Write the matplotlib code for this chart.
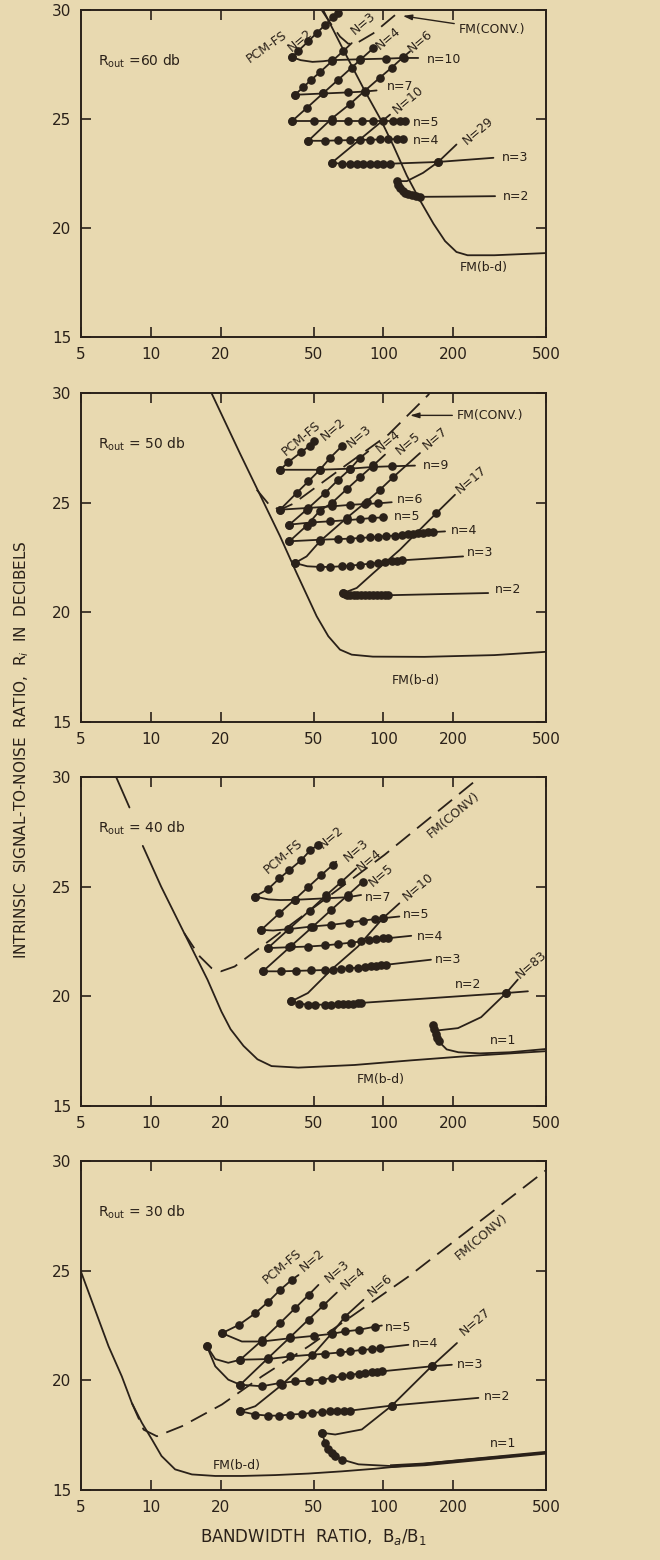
import matplotlib
matplotlib.use("Agg")
import matplotlib.pyplot as plt
from matplotlib.ticker import NullLocator

BG = "#e8d9b0"
INK = "#2a2119"

# ---------------- axis labels / ticks ----------------
x_ticks = [5, 10, 20, 50, 100, 200, 500]
x_tick_labels = ["5", "10", "20", "50", "100", "200", "500"]
y_ticks = [15, 20, 25, 30]
x_label = "BANDWIDTH  RATIO,  B$_a$/B$_1$"
y_label = "INTRINSIC  SIGNAL-TO-NOISE  RATIO,  R$_i$  IN  DECIBELS"

# ================= Panel R_out = 60 db =================
p60_fmbd_x = [55, 67, 83, 97, 110, 126, 143, 164, 184, 206, 230, 300, 500]
p60_fmbd_y = [30, 28.2, 26.3, 25.0, 23.8, 22.4, 21.3, 20.2, 19.4, 18.9, 18.75, 18.75, 18.85]
p60_fmconv_x = [54.2, 58.9, 65, 70.6, 76.7, 90.4, 120]
p60_fmconv_y = [30, 29.42, 28.78, 28.45, 28.48, 28.93, 30.03]
p60_N2_x = [40.4, 43.0, 47.5, 51.6, 56.0, 60.8, 63.5, 66]
p60_N2_y = [27.84, 28.12, 28.57, 28.94, 29.31, 29.68, 29.88, 30.1]
p60_N3_x = [41.6, 45.2, 48.6, 53.3, 59.9, 67.2, 73]
p60_N3_y = [26.11, 26.46, 26.77, 27.15, 27.64, 28.12, 28.48]
p60_N4_x = [40.3, 46.7, 55.1, 64.0, 73.0, 79.2, 90.4]
p60_N4_y = [24.89, 25.5, 26.19, 26.81, 27.36, 27.7, 28.25]
p60_N6_x = [47.5, 59.9, 71.8, 83.2, 96.6, 108.5, 121.7, 130]
p60_N6_y = [24.0, 25.02, 25.69, 26.3, 26.9, 27.36, 27.84, 28.1]
p60_N10_x = [59.9, 74.2, 90.4, 106.7]
p60_N10_y = [22.99, 23.81, 24.57, 25.2]
p60_N29_x = [115.8, 126, 148, 172, 206]
p60_N29_y = [22.15, 22.15, 22.53, 23.03, 23.83]
p60_n10_x = [40.4, 44, 49.5, 55, 60, 79, 103, 122, 141]
p60_n10_y = [27.84, 27.7, 27.62, 27.65, 27.7, 27.74, 27.77, 27.8, 27.8]
p60_n7_x = [41.6, 55.1, 70.6, 83.2, 93.4]
p60_n7_y = [26.11, 26.17, 26.22, 26.26, 26.31]
p60_n5_x = [40.3, 50, 59.9, 70.6, 80.6, 90.4, 99.9, 110, 117.8, 123.8]
p60_n5_y = [24.9, 24.9, 24.9, 24.9, 24.9, 24.9, 24.9, 24.9, 24.9, 24.9]
p60_n4_x = [47.5, 56, 64, 71.8, 79.2, 87.5, 96.6, 104.9, 114, 121.7]
p60_n4_y = [24.0, 24.0, 24.02, 24.03, 24.04, 24.05, 24.06, 24.07, 24.08, 24.09]
p60_n3_x = [59.9, 66.1, 71.8, 76.7, 81.9, 87.5, 93.4, 99.9, 106.7, 172, 297]
p60_n3_y = [22.99, 22.95, 22.93, 22.92, 22.92, 22.92, 22.93, 22.94, 22.95, 23.03, 23.22]
p60_n2_x = [114, 116, 118, 121, 124, 128, 132, 138, 143.5, 200, 302]
p60_n2_y = [22.15, 21.98, 21.84, 21.72, 21.62, 21.55, 21.5, 21.46, 21.43, 21.44, 21.46]

# ================= Panel R_out = 50 db =================
p50_fmbd_x = [18.2, 24.1, 29.9, 35.9, 42.3, 51.6, 57.9, 65, 73, 90, 150, 300, 500]
p50_fmbd_y = [30, 27.26, 25.21, 23.47, 21.79, 19.82, 18.91, 18.3, 18.07, 17.98, 17.97, 18.05, 18.2]
p50_fmconv_x = [28.5, 32.5, 35.9, 40.9, 69.4, 104.9, 156, 160]
p50_fmconv_y = [25.59, 24.86, 24.68, 24.95, 26.73, 28.1, 29.92, 30.1]
p50_N2_x = [35.9, 39.0, 44.2, 48.3, 50.3]
p50_N2_y = [26.5, 26.85, 27.3, 27.6, 27.8]
p50_N3_x = [35.9, 42.3, 47.5, 53.3, 58.9, 66.1]
p50_N3_y = [24.68, 25.44, 25.97, 26.5, 27.04, 27.57]
p50_N4_x = [39.4, 46.7, 56.0, 64.0, 71.8, 79.2, 86]
p50_N4_y = [24.0, 24.68, 25.44, 26.05, 26.53, 27.04, 27.34]
p50_N5_x = [39.4, 46.7, 53.3, 59.9, 69.4, 79.2, 90.4, 101.5]
p50_N5_y = [23.24, 23.95, 24.64, 24.98, 25.61, 26.16, 26.7, 27.19]
p50_N7_x = [41.6, 46.7, 53.3, 69.4, 84.6, 96.6, 110, 143.5]
p50_N7_y = [22.25, 22.55, 23.24, 24.3, 25.05, 25.59, 26.16, 27.26]
p50_N17_x = [67.2, 76.7, 90.4, 117.8, 169, 203]
p50_N17_y = [20.88, 21.11, 21.79, 22.86, 24.53, 25.36]
p50_n9_x = [35.9, 53.3, 71.8, 90.4, 108.5, 136.6]
p50_n9_y = [26.5, 26.5, 26.55, 26.63, 26.66, 26.69]
p50_n6_x = [35.9, 47.5, 59.9, 71.8, 83.2, 95, 108.5]
p50_n6_y = [24.68, 24.76, 24.83, 24.9, 24.94, 24.97, 25.02]
p50_n5_x = [39.4, 49.1, 58.9, 69.4, 79.2, 89, 99.9, 103]
p50_n5_y = [24.0, 24.1, 24.15, 24.2, 24.25, 24.3, 24.33, 24.35]
p50_n4_x = [39.4, 53.3, 64, 71.8, 79.2, 87.5, 95, 103, 112, 119.7, 128, 134, 141, 148, 156, 164, 184]
p50_n4_y = [23.24, 23.31, 23.34, 23.36, 23.39, 23.42, 23.45, 23.48, 23.5, 23.54, 23.57, 23.59,
            23.61, 23.63, 23.65, 23.66, 23.69]
p50_n3_x = [41.6, 47, 53.3, 58.9, 66.1, 71.8, 79.2, 87.5, 95, 101.5, 108.5, 114, 119.7, 220]
p50_n3_y = [22.25, 22.1, 22.07, 22.07, 22.1, 22.13, 22.17, 22.22, 22.25, 22.28, 22.32, 22.35, 22.37, 22.55]
p50_n2_x = [67.2, 68.3, 70, 72, 74.5, 77, 80, 83, 86.5, 90, 94, 98, 101.5, 104.9, 282]
p50_n2_y = [20.88, 20.82, 20.8, 20.78, 20.77, 20.77, 20.77, 20.77, 20.77, 20.77, 20.77, 20.78,
            20.78, 20.78, 20.88]

# ================= Panel R_out = 40 db =================
p40_fmbd_x = [7.08, 8.08, 9.22, 11.06, 13.9, 17.5, 20.1, 22, 25, 28.7, 33, 43, 75, 131, 233, 500]
p40_fmbd_y = [30, 28.61, 26.86, 25, 22.88, 20.76, 19.3, 18.5, 17.74, 17.13, 16.82, 16.75, 16.87,
              17.08, 17.28, 17.5]
p40_fmconv_x = [13.9, 16.2, 18.2, 20.0, 22.9, 101, 254.6, 280]
p40_fmconv_y = [22.88, 21.82, 21.29, 21.14, 21.36, 26.45, 29.92, 30.5]
p40_N2_x = [27.9, 31.8, 35.7, 39.4, 44.3, 48.5, 52.2]
p40_N2_y = [24.55, 24.88, 25.38, 25.76, 26.21, 26.67, 26.89]
p40_N3_x = [29.8, 35.7, 41.5, 47.3, 53.9, 60.6, 62.6]
p40_N3_y = [23.03, 23.79, 24.41, 24.97, 25.52, 26.0, 26.14]
p40_N4_x = [31.8, 39.4, 48.1, 56.7, 65.8, 76.3]
p40_N4_y = [22.2, 23.09, 23.91, 24.61, 25.21, 25.83]
p40_N5_x = [30.3, 40.1, 49.7, 59.6, 70.3, 81.5]
p40_N5_y = [21.14, 22.3, 23.18, 23.94, 24.62, 25.23]
p40_N10_x = [40.1, 47.3, 59.6, 77.6, 99.4, 117]
p40_N10_y = [19.77, 20.15, 21.21, 22.27, 23.56, 24.24]
p40_N83_x = [163, 172, 209, 263, 337, 378]
p40_N83_y = [18.71, 18.45, 18.55, 19.05, 20.15, 20.76]
p40_n7_x = [27.9, 32, 36, 41.5, 56.7, 70.3, 80.1]
p40_n7_y = [24.55, 24.42, 24.39, 24.4, 24.47, 24.52, 24.62]
p40_n5_x = [29.8, 33.5, 38.8, 48.8, 59.6, 71.4, 81.5, 91.5, 99.4, 117]
p40_n5_y = [23.03, 23.0, 23.06, 23.18, 23.26, 23.36, 23.45, 23.52, 23.56, 23.64]
p40_n4_x = [31.8, 39.4, 47.3, 55.8, 63.6, 72.6, 80.1, 87, 93, 99.4, 104.4, 131.6]
p40_n4_y = [22.2, 22.24, 22.27, 22.32, 22.38, 22.45, 22.5, 22.58, 22.6, 22.64, 22.65, 22.76]
p40_n3_x = [30.3, 36.3, 42.1, 48.8, 55.8, 60.6, 65.8, 71.4, 77.6, 82.9, 88.5, 93, 97.7, 102.7, 160]
p40_n3_y = [21.14, 21.14, 21.16, 21.18, 21.2, 21.22, 21.25, 21.28, 21.31, 21.34, 21.37, 21.39,
            21.41, 21.44, 21.67]
p40_n2_x = [40.1, 43.5, 47.3, 50.5, 55.8, 59.6, 63.6, 66.9, 70.3, 73.8, 77.6, 80.1, 337, 418]
p40_n2_y = [19.77, 19.67, 19.62, 19.62, 19.62, 19.62, 19.65, 19.65, 19.67, 19.67, 19.7, 19.7,
            20.15, 20.23]
p40_n1_x = [163, 165.5, 168, 170.5, 172.5, 187, 210, 260, 350, 500]
p40_n1_y = [18.71, 18.5, 18.3, 18.1, 17.95, 17.58, 17.45, 17.4, 17.45, 17.6]

# ================= Panel R_out = 30 db =================
p30_fmbd_x = [5, 5.75, 6.57, 7.49, 8.27, 9.14, 10.1, 11.1, 12.7, 15.0, 18.9, 24.6, 34.2, 47.6,
              66.2, 92.1, 128, 178, 248, 500]
p30_fmbd_y = [24.95, 23.21, 21.55, 20.18, 18.97, 18.06, 17.3, 16.55, 15.94, 15.71, 15.64, 15.64,
              15.68, 15.75, 15.85, 15.97, 16.12, 16.28, 16.42, 16.7]
p30_fmconv_x = [8.27, 9.3, 10.6, 13.6, 20.2, 30.0, 47.6, 128, 500]
p30_fmconv_y = [18.97, 17.75, 17.45, 17.91, 18.9, 20.18, 21.55, 24.73, 29.58]
p30_N2_x = [20.2, 23.9, 28.1, 32.0, 35.9, 40.3, 43.1]
p30_N2_y = [22.15, 22.53, 23.06, 23.59, 24.12, 24.58, 24.8]
p30_N3_x = [24.2, 30, 35.9, 41.7, 47.6, 52.5]
p30_N3_y = [20.94, 21.82, 22.61, 23.29, 23.89, 24.35]
p30_N4_x = [24.2, 32.0, 39.7, 47.6, 55.2, 63]
p30_N4_y = [19.8, 21.03, 21.97, 22.77, 23.42, 24.0]
p30_N6_x = [24.2, 28.1, 36.6, 47.6, 60, 68.4, 82]
p30_N6_y = [18.59, 18.82, 19.8, 20.94, 22.15, 22.91, 23.67]
p30_N27_x = [54.3, 62, 80.7, 108.7, 161, 207]
p30_N27_y = [17.61, 17.53, 17.76, 18.85, 20.64, 21.7]
p30_n5_x = [20.2, 24.6, 30.0, 39.7, 50.4, 60, 68.4, 78.1, 92.1, 98.4]
p30_n5_y = [22.15, 21.77, 21.77, 21.92, 22.03, 22.12, 22.23, 22.3, 22.45, 22.5]
p30_n4_x = [17.4, 18.9, 21.5, 24.2, 32.0, 39.7, 49.2, 56.1, 65.1, 71.9, 80.7, 89.1, 96.7, 128]
p30_n4_y = [21.55, 20.97, 20.8, 20.94, 20.97, 21.09, 21.17, 21.21, 21.27, 21.32, 21.39, 21.42,
            21.47, 21.62]
p30_n3_x = [17.4, 18.9, 21.5, 24.2, 30, 35.9, 41.7, 47.6, 54.3, 60, 66.2, 71.9, 78.1, 83.4, 89.1,
            93.6, 98.4, 161, 196.8]
p30_n3_y = [21.55, 20.64, 20.03, 19.8, 19.73, 19.88, 19.95, 19.98, 20.03, 20.11, 20.18, 20.26,
            20.3, 20.33, 20.36, 20.39, 20.41, 20.64, 20.71]
p30_n2_x = [24.2, 28.1, 32.0, 35.4, 39.7, 44.6, 49.2, 54.3, 59, 63, 67.3, 71.9, 108.7, 256]
p30_n2_y = [18.59, 18.44, 18.39, 18.39, 18.44, 18.47, 18.52, 18.55, 18.58, 18.59, 18.6, 18.62,
            18.85, 19.2]
p30_n1_x = [54.3, 56.1, 58, 60, 62, 66.2, 78.1, 108.7, 151, 248, 500]
p30_n1_y = [17.61, 17.15, 16.85, 16.7, 16.55, 16.39, 16.17, 16.09, 16.17, 16.39, 16.7]

# ---------------- helpers ----------------
LW = 1.3
MS = 5.2


def curve(ax, x, y, dots=(), lw=LW):
    ax.plot(x, y, color=INK, lw=lw, solid_capstyle="round", zorder=3)
    if dots:
        ax.plot([x[i] for i in dots], [y[i] for i in dots], "o", ms=MS, color=INK,
                mec=INK, zorder=4)


def dashed(ax, x, y):
    ax.plot(x, y, color=INK, lw=LW, dashes=(10, 5), zorder=3)


def rlabel(ax, x, y, s, rot=40, fs=9):
    ax.text(x, y, s, rotation=rot, rotation_mode="anchor", ha="center", va="center",
            fontsize=fs, color=INK, zorder=5)


def hlabel(ax, x, y, s, fs=9):
    ax.text(x, y, s, ha="left", va="center", fontsize=fs, color=INK, zorder=5)


def setup(ax, rout):
    ax.set_facecolor(BG)
    ax.set_xscale("log")
    ax.set_xlim(5, 500)
    ax.set_ylim(15, 30)
    ax.set_xticks(x_ticks)
    ax.set_xticklabels(x_tick_labels)
    ax.xaxis.set_minor_locator(NullLocator())
    ax.set_yticks(y_ticks)
    ax.set_yticklabels([str(v) for v in y_ticks])
    ax.tick_params(direction="in", top=True, right=True, length=7, width=1.2,
                   labelsize=11, pad=7, colors=INK)
    for s in ax.spines.values():
        s.set_linewidth(1.4)
        s.set_color(INK)
    ax.text(5.94, 27.64, "R$_{\\rm out}$ " + rout, fontsize=10, color=INK,
            ha="left", va="center", zorder=5)


fig = plt.figure(figsize=(6.6, 15.6), dpi=100)
fig.patch.set_facecolor(BG)

L, W = 81 / 660, 465 / 660
tops = [10, 393, 777, 1161]
bots = [337, 722, 1106, 1490]
axs = [fig.add_axes([L, 1 - b / 1560, W, (b - t) / 1560]) for t, b in zip(tops, bots)]

# ---------- panel 60 ----------
ax = axs[0]
setup(ax, "=60 db")
curve(ax, p60_fmbd_x, p60_fmbd_y)
dashed(ax, p60_fmconv_x, p60_fmconv_y)
curve(ax, p60_N2_x, p60_N2_y, dots=(0, 1, 2, 3, 4, 5, 6))
curve(ax, p60_N3_x, p60_N3_y, dots=(0, 1, 2, 3, 4, 5))
curve(ax, p60_N4_x, p60_N4_y, dots=(0, 1, 2, 3, 4, 5, 6))
curve(ax, p60_N6_x, p60_N6_y, dots=(0, 1, 2, 3, 4, 5, 6))
curve(ax, p60_N10_x, p60_N10_y, dots=(0,))
curve(ax, p60_N29_x, p60_N29_y, dots=(3,))
curve(ax, p60_n10_x, p60_n10_y, dots=(0, 4, 5, 6, 7))
curve(ax, p60_n7_x, p60_n7_y, dots=(0, 1, 2, 3))
curve(ax, p60_n5_x, p60_n5_y, dots=tuple(range(10)))
curve(ax, p60_n4_x, p60_n4_y, dots=tuple(range(10)))
curve(ax, p60_n3_x, p60_n3_y, dots=tuple(range(10)))
curve(ax, p60_n2_x, p60_n2_y, dots=tuple(range(9)))
rlabel(ax, 31.5, 28.32, "PCM-FS", rot=35)
rlabel(ax, 43.7, 28.62, "N=2")
rlabel(ax, 81.9, 29.39, "N=3")
rlabel(ax, 104.9, 28.7, "N=4")
rlabel(ax, 143.5, 28.55, "N=6")
rlabel(ax, 128, 25.88, "N=10")
rlabel(ax, 256, 24.44, "N=29")
hlabel(ax, 153, 27.71, "n=10")
hlabel(ax, 103, 26.5, "n=7")
hlabel(ax, 133.5, 24.85, "n=5")
hlabel(ax, 133.5, 24.0, "n=4")
hlabel(ax, 322, 23.22, "n=3")
hlabel(ax, 326, 21.46, "n=2")
ax.text(269, 18.19, "FM(b-d)", ha="center", va="center", fontsize=9, color=INK)
ax.annotate("FM(CONV.)", xy=(121, 29.73), xytext=(210, 29.12), fontsize=9, color=INK,
            ha="left", va="center",
            arrowprops=dict(arrowstyle="-|>,head_length=0.6,head_width=0.18", color=INK,
                            lw=1.0, shrinkA=1, shrinkB=0))

# ---------- panel 50 ----------
ax = axs[1]
setup(ax, "= 50 db")
curve(ax, p50_fmbd_x, p50_fmbd_y)
dashed(ax, p50_fmconv_x, p50_fmconv_y)
curve(ax, p50_N2_x, p50_N2_y, dots=(0, 1, 2, 3, 4))
curve(ax, p50_N3_x, p50_N3_y, dots=(0, 1, 2, 3, 4, 5))
curve(ax, p50_N4_x, p50_N4_y, dots=(0, 1, 2, 3, 4, 5))
curve(ax, p50_N5_x, p50_N5_y, dots=(0, 1, 2, 3, 4, 5, 6))
curve(ax, p50_N7_x, p50_N7_y, dots=(0, 2, 3, 4, 5, 6))
curve(ax, p50_N17_x, p50_N17_y, dots=(0, 4))
curve(ax, p50_n9_x, p50_n9_y, dots=(0, 1, 2, 3, 4))
curve(ax, p50_n6_x, p50_n6_y, dots=(0, 1, 2, 3, 4, 5))
curve(ax, p50_n5_x, p50_n5_y, dots=(0, 1, 2, 3, 4, 5, 6))
curve(ax, p50_n4_x, p50_n4_y, dots=tuple(range(16)))
curve(ax, p50_n3_x, p50_n3_y, dots=(0,) + tuple(range(2, 13)))
curve(ax, p50_n2_x, p50_n2_y, dots=tuple(range(14)))
rlabel(ax, 44.5, 27.95, "PCM-FS")
rlabel(ax, 60.8, 28.33, "N=2")
rlabel(ax, 78.5, 28.02, "N=3")
rlabel(ax, 104.9, 27.8, "N=4")
rlabel(ax, 128, 27.72, "N=5")
rlabel(ax, 166.5, 27.95, "N=7")
rlabel(ax, 239, 26.05, "N=17")
hlabel(ax, 148, 26.69, "n=9")
hlabel(ax, 114.7, 25.14, "n=6")
hlabel(ax, 111, 24.35, "n=5")
hlabel(ax, 194.5, 23.74, "n=4")
hlabel(ax, 229, 22.71, "n=3")
hlabel(ax, 302, 21.03, "n=2")
ax.text(137, 16.9, "FM(b-d)", ha="center", va="center", fontsize=9, color=INK)
ax.annotate("FM(CONV.)", xy=(130, 28.98), xytext=(206, 28.98), fontsize=9, color=INK,
            ha="left", va="center",
            arrowprops=dict(arrowstyle="-|>,head_length=0.6,head_width=0.18", color=INK,
                            lw=1.0, shrinkA=1, shrinkB=0))

# ---------- panel 40 ----------
ax = axs[2]
setup(ax, "= 40 db")
curve(ax, p40_fmbd_x[:2], p40_fmbd_y[:2])
curve(ax, p40_fmbd_x[2:], p40_fmbd_y[2:])
dashed(ax, p40_fmconv_x, p40_fmconv_y)
curve(ax, p40_N2_x, p40_N2_y, dots=tuple(range(7)))
curve(ax, p40_N3_x, p40_N3_y, dots=tuple(range(6)))
curve(ax, p40_N4_x, p40_N4_y, dots=tuple(range(5)))
curve(ax, p40_N5_x, p40_N5_y, dots=tuple(range(6)))
curve(ax, p40_N10_x, p40_N10_y, dots=(0, 4))
curve(ax, p40_N83_x, p40_N83_y, dots=(4,))
curve(ax, p40_n7_x, p40_n7_y, dots=(0, 3, 4, 5))
curve(ax, p40_n5_x, p40_n5_y, dots=(0, 2, 3, 4, 5, 6, 7, 8))
curve(ax, p40_n4_x, p40_n4_y, dots=tuple(range(11)))
curve(ax, p40_n3_x, p40_n3_y, dots=tuple(range(14)))
curve(ax, p40_n2_x, p40_n2_y, dots=tuple(range(13)))
curve(ax, p40_n1_x, p40_n1_y, dots=(0, 1, 2, 3, 4))
rlabel(ax, 36.9, 26.36, "PCM-FS")
rlabel(ax, 59.6, 27.27, "N=2")
rlabel(ax, 76.3, 26.67, "N=3")
rlabel(ax, 87, 26.2, "N=4")
rlabel(ax, 97.7, 25.53, "N=5")
rlabel(ax, 140.5, 25.0, "N=10")
rlabel(ax, 432, 21.44, "N=83")
rlabel(ax, 199, 28.26, "FM(CONV)")
hlabel(ax, 82.9, 24.52, "n=7")
hlabel(ax, 121, 23.71, "n=5")
hlabel(ax, 139.5, 22.73, "n=4")
hlabel(ax, 167, 21.67, "n=3")
hlabel(ax, 202, 20.53, "n=2")
hlabel(ax, 286, 18.0, "n=1")
ax.text(97, 16.2, "FM(b-d)", ha="center", va="center", fontsize=9, color=INK)

# ---------- panel 30 ----------
ax = axs[3]
setup(ax, "= 30 db")
curve(ax, p30_fmbd_x, p30_fmbd_y)
dashed(ax, p30_fmconv_x, p30_fmconv_y)
curve(ax, p30_N2_x, p30_N2_y, dots=tuple(range(6)))
curve(ax, p30_N3_x, p30_N3_y, dots=tuple(range(5)))
curve(ax, p30_N4_x, p30_N4_y, dots=tuple(range(5)))
curve(ax, p30_N6_x, p30_N6_y, dots=(0, 2, 4, 5))
curve(ax, p30_N27_x, p30_N27_y, dots=(0, 3, 4))
curve(ax, p30_n5_x, p30_n5_y, dots=(0, 2, 3, 4, 5, 6, 7, 8))
curve(ax, p30_n4_x, p30_n4_y, dots=(0,) + tuple(range(3, 13)))
curve(ax, p30_n3_x, p30_n3_y, dots=(0,) + tuple(range(3, 18)))
curve(ax, p30_n2_x, p30_n2_y, dots=tuple(range(13)))
curve(ax, p30_n1_x, p30_n1_y, dots=(0, 1, 2, 3, 4, 5))
ax.plot(p30_n1_x[7:], p30_n1_y[7:], color=INK, lw=2.6, zorder=3)
rlabel(ax, 36.6, 25.18, "PCM-FS")
rlabel(ax, 49.2, 25.48, "N=2")
rlabel(ax, 63, 24.95, "N=3")
rlabel(ax, 74.3, 24.65, "N=4")
rlabel(ax, 96.7, 24.35, "N=6")
rlabel(ax, 248, 22.68, "N=27")
rlabel(ax, 265, 26.55, "FM(CONV)")
hlabel(ax, 101.7, 22.42, "n=5")
hlabel(ax, 132.4, 21.7, "n=4")
hlabel(ax, 207, 20.71, "n=3")
hlabel(ax, 269, 19.27, "n=2")
ax.text(328, 17.12, "n=1", ha="center", va="center", fontsize=9, color=INK)
ax.text(23.4, 16.12, "FM(b-d)", ha="center", va="center", fontsize=9, color=INK)

fig.text(313 / 660, 1 - 1537 / 1560, x_label, ha="center", va="center", fontsize=12, color=INK)
fig.text(22 / 660, 1 - 750 / 1560, y_label, ha="center", va="center", rotation=90,
         fontsize=11, color=INK)

fig.savefig("out.png", dpi=100, facecolor=BG)
